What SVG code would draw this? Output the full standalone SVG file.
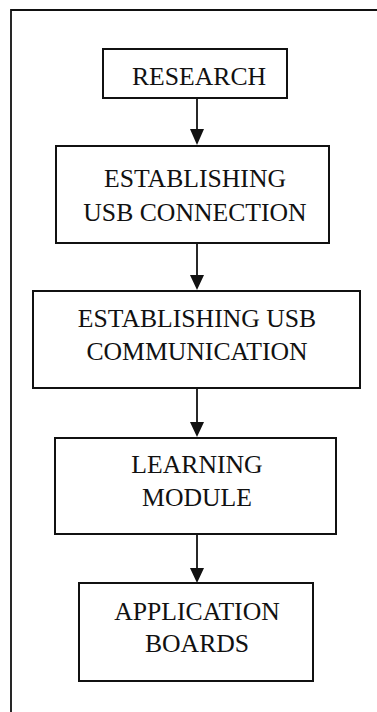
<svg xmlns="http://www.w3.org/2000/svg" width="377" height="712" viewBox="0 0 377 712">
<defs>
<style>
.box{fill:#fff;stroke:#111;stroke-width:2}
.frame{fill:none;stroke:#111;stroke-width:1.8}
.lbl{font-family:"Liberation Serif","Times New Roman",serif;font-size:25.7px;fill:#111;text-anchor:middle}
.conn{stroke:#111;stroke-width:1.8;fill:none}
.head{fill:#111}
</style>
</defs>
<rect width="377" height="712" fill="#fff"/>
<path class="frame" d="M11,712 L11,10 L377,10"/>
<g id="connectors">
<line class="conn" x1="197" y1="98" x2="197" y2="129"/><path class="head" d="M190,129 L204,129 L197,145 Z"/>
<line class="conn" x1="197" y1="243" x2="197" y2="275"/><path class="head" d="M190,275 L204,275 L197,290 Z"/>
<line class="conn" x1="197" y1="388" x2="197" y2="422"/><path class="head" d="M190,422 L204,422 L197,437 Z"/>
<line class="conn" x1="197" y1="534" x2="197" y2="568"/><path class="head" d="M190,568 L204,568 L197,583 Z"/>
</g>
<g id="research">
<rect class="box" x="103" y="49" width="184" height="49"/>
<text class="lbl" x="199" y="85">RESEARCH</text>
</g>
<g id="usb-connection">
<rect class="box" x="56" y="146" width="273" height="97"/>
<text class="lbl" x="195" y="187">ESTABLISHING</text>
<text class="lbl" x="195" y="221">USB CONNECTION</text>
</g>
<g id="usb-communication">
<rect class="box" x="33" y="291" width="327" height="97"/>
<text class="lbl" x="197" y="327">ESTABLISHING USB</text>
<text class="lbl" x="197" y="360">COMMUNICATION</text>
</g>
<g id="learning-module">
<rect class="box" x="55" y="438" width="281" height="96"/>
<text class="lbl" x="197" y="473">LEARNING</text>
<text class="lbl" x="197" y="506">MODULE</text>
</g>
<g id="application-boards">
<rect class="box" x="79" y="583" width="234" height="98"/>
<text class="lbl" x="197" y="620">APPLICATION</text>
<text class="lbl" x="197" y="652">BOARDS</text>
</g>
</svg>
